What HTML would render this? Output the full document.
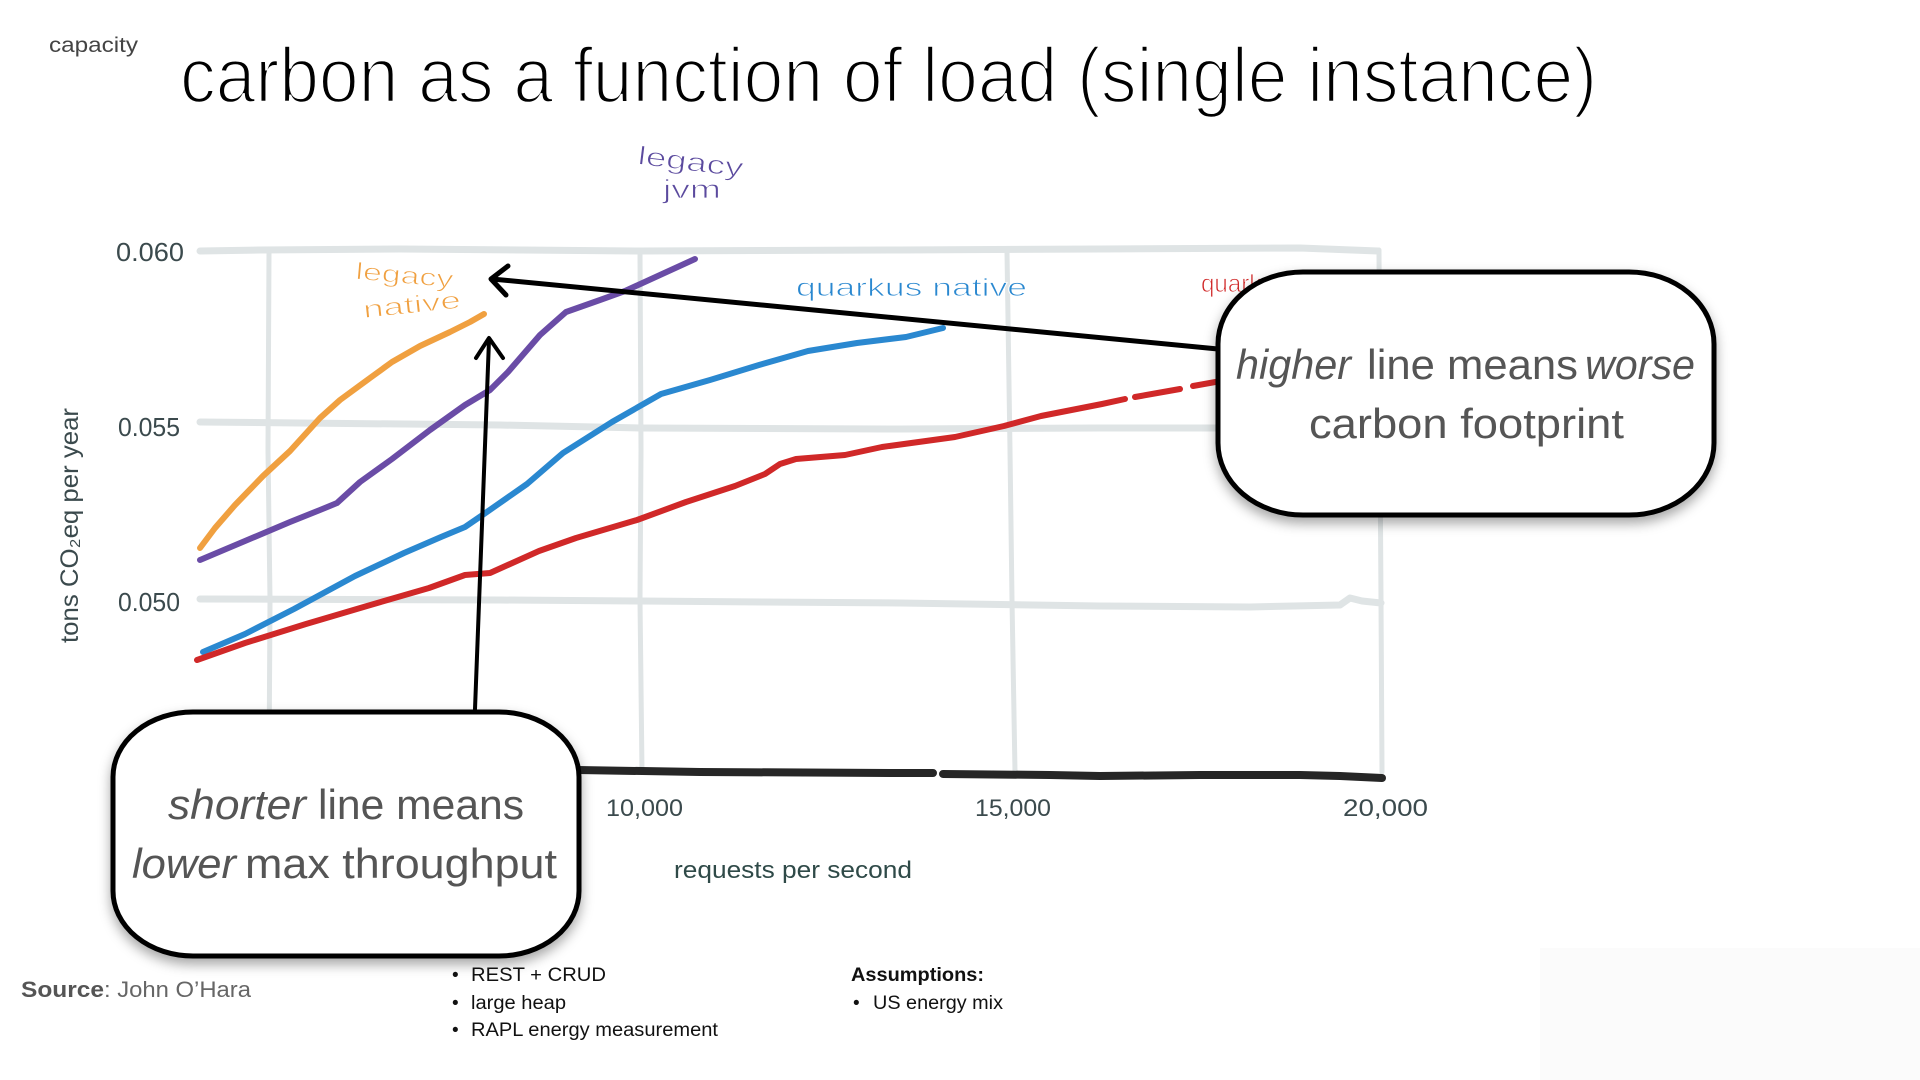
<!DOCTYPE html>
<html><head><meta charset="utf-8"><style>
html,body{margin:0;padding:0;background:#fff;}
svg{display:block;}
</style></head><body>
<svg width="1920" height="1080" viewBox="0 0 1920 1080" xmlns="http://www.w3.org/2000/svg" font-family="'Liberation Sans', sans-serif">
<defs>
<filter id="sh" x="-10%" y="-10%" width="120%" height="130%">
<feDropShadow dx="0" dy="6" stdDeviation="6" flood-color="#000" flood-opacity="0.35"/>
</filter>
</defs>
<rect width="1920" height="1080" fill="#fff"/>
<rect x="1540" y="948" width="380" height="132" fill="#fbfbfb"/>

<!-- header -->
<text x="49" y="52" font-size="21" fill="#444" textLength="89" lengthAdjust="spacingAndGlyphs">capacity</text>
<text x="180" y="102" font-size="78" fill="#000" stroke="#fff" stroke-width="2.5" textLength="1417" lengthAdjust="spacingAndGlyphs">carbon as a function of load (single instance)</text>

<!-- grid -->
<g fill="none" stroke="#dfe4e5" stroke-linecap="round" stroke-linejoin="round">
<polyline stroke-width="7" points="200,251 260,250 400,249 640,251 900,250 1100,249 1300,248 1378,251"/>
<polyline stroke-width="7" points="200,422 300,423 500,425 640,428 900,429 1100,428 1381,428"/>
<polyline stroke-width="7" points="200,599 500,600 640,601 900,603 1100,606 1250,607 1340,605 1350,598 1362,601 1381,603"/>
<polyline stroke-width="5" points="269,252 268,450 270,600 269,772"/>
<polyline stroke-width="5" points="640,252 641,450 640,600 642,772"/>
<polyline stroke-width="5" points="1007,252 1010,450 1012,600 1015,772"/>
<polyline stroke-width="5" points="1379,250 1380,450 1381,600 1382,772"/>
</g>

<!-- x axis -->
<g fill="none" stroke="#262626" stroke-width="8" stroke-linecap="round" stroke-linejoin="round">
<polyline points="200,768 578,770 700,772 900,773 933,773"/>
<polyline points="943,774 1050,775 1100,776 1200,775 1300,775 1340,776 1382,778"/>
</g>

<!-- series -->
<g fill="none" stroke-width="6" stroke-linecap="round" stroke-linejoin="round">
<polyline stroke="#f0a040" points="200,548 215,528 235,505 263,476 290,451 320,418 340,400 370,378 392,362 420,346 450,332 470,322 484,314"/>
<polyline stroke="#6a4ca6" points="200,560 245,541 290,522 320,510 337,503 360,482 392,459 430,430 465,405 490,390 508,372 540,335 566,312 600,300 625,291 660,275 695,259"/>
<polyline stroke="#2a88d0" points="203,652 245,634 294,609 355,576 404,553 441,537 465,527 484,514 527,484 563,453 612,422 661,394 710,380 759,365 808,351 857,343 906,337 943,328"/>
<polyline stroke="#d02828" points="197,660 245,643 306,624 367,606 429,588 465,575 490,573 539,551 576,538 637,520 686,502 735,486 765,474 780,464 796,459 845,455 882,447 955,437 1004,426 1041,416 1102,404 1125,399"/>
<line stroke="#d02828" x1="1135" y1="397" x2="1180" y2="389"/>
<line stroke="#d02828" x1="1193" y1="386" x2="1232" y2="379"/>
</g>

<!-- series labels -->
<g font-size="26" stroke="#fff" stroke-width="0.8">
<text x="637" y="164" fill="#5b4a9e" transform="rotate(7 637 164)" textLength="106" lengthAdjust="spacingAndGlyphs">legacy</text>
<text x="663" y="198" fill="#5b4a9e" textLength="58" lengthAdjust="spacingAndGlyphs">jvm</text>
<text x="355" y="279" fill="#f0a040" font-size="24" transform="rotate(5 355 279)" textLength="98" lengthAdjust="spacingAndGlyphs">legacy</text>
<text x="364" y="318" fill="#f0a040" font-size="24" transform="rotate(-6 364 318)" textLength="98" lengthAdjust="spacingAndGlyphs">native</text>
<text x="796" y="296" fill="#2a88d0" font-size="25" textLength="231" lengthAdjust="spacingAndGlyphs">quarkus native</text>
<text x="1201" y="292" fill="#d02828" font-size="25" textLength="130" lengthAdjust="spacingAndGlyphs">quarkus jvm</text>
</g>

<!-- tick labels -->
<g fill="#3b4a4d" font-size="26">
<text x="116" y="261" textLength="68" lengthAdjust="spacingAndGlyphs">0.060</text>
<text x="118" y="436" textLength="62" lengthAdjust="spacingAndGlyphs">0.055</text>
<text x="118" y="611" textLength="62" lengthAdjust="spacingAndGlyphs">0.050</text>
<text x="606" y="816" font-size="24" textLength="77" lengthAdjust="spacingAndGlyphs">10,000</text>
<text x="975" y="816" font-size="24" textLength="76" lengthAdjust="spacingAndGlyphs">15,000</text>
<text x="1343" y="816" font-size="24" textLength="85" lengthAdjust="spacingAndGlyphs">20,000</text>
<text x="674" y="878" font-size="24" fill="#2f4a48" textLength="238" lengthAdjust="spacingAndGlyphs">requests per second</text>
<text transform="translate(78,643) rotate(-90)" font-size="25" textLength="235" lengthAdjust="spacingAndGlyphs">tons CO₂eq per year</text>
</g>

<!-- arrows -->
<g fill="none" stroke="#000" stroke-linecap="round" stroke-linejoin="round">
<line x1="1218" y1="349" x2="492" y2="279" stroke-width="5"/>
<polyline points="508,266 491,279 506,295" stroke-width="5"/>
<line x1="475" y1="709" x2="489" y2="340" stroke-width="4"/>
<polyline points="476,358 489,338 503,358" stroke-width="4"/>
</g>

<!-- callout boxes -->
<rect x="1218" y="272" width="496" height="243" rx="85" ry="72" fill="#fff" stroke="#000" stroke-width="5" filter="url(#sh)"/>
<rect x="113" y="712" width="466" height="244" rx="80" ry="65" fill="#fff" stroke="#000" stroke-width="5" filter="url(#sh)"/>

<g fill="#555" font-size="42">
<text x="1236" y="379" font-style="italic" textLength="115" lengthAdjust="spacingAndGlyphs">higher</text>
<text x="1367" y="379" textLength="211" lengthAdjust="spacingAndGlyphs">line means</text>
<text x="1585" y="379" font-style="italic" textLength="110" lengthAdjust="spacingAndGlyphs">worse</text>
<text x="1309" y="438" textLength="315" lengthAdjust="spacingAndGlyphs">carbon footprint</text>
<text x="168" y="819" font-style="italic" textLength="138" lengthAdjust="spacingAndGlyphs">shorter</text>
<text x="318" y="819" textLength="206" lengthAdjust="spacingAndGlyphs">line means</text>
<text x="132" y="878" font-style="italic" textLength="104" lengthAdjust="spacingAndGlyphs">lower</text>
<text x="245" y="878" textLength="312" lengthAdjust="spacingAndGlyphs">max throughput</text>
</g>

<!-- footer -->
<text x="21" y="997" font-size="22" font-weight="bold" fill="#555" textLength="83" lengthAdjust="spacingAndGlyphs">Source</text>
<text x="104" y="997" font-size="22" fill="#666" textLength="147" lengthAdjust="spacingAndGlyphs">: John O’Hara</text>

<g font-size="19" fill="#111">
<text x="452" y="981">•</text>
<text x="471" y="981" textLength="135" lengthAdjust="spacingAndGlyphs">REST + CRUD</text>
<text x="452" y="1009">•</text>
<text x="471" y="1009" textLength="95" lengthAdjust="spacingAndGlyphs">large heap</text>
<text x="452" y="1036">•</text>
<text x="471" y="1036" textLength="247" lengthAdjust="spacingAndGlyphs">RAPL energy measurement</text>
<text x="851" y="981" font-weight="bold" textLength="133" lengthAdjust="spacingAndGlyphs">Assumptions:</text>
<text x="853" y="1009">•</text>
<text x="873" y="1009" textLength="130" lengthAdjust="spacingAndGlyphs">US energy mix</text>
</g>
</svg>
</body></html>
